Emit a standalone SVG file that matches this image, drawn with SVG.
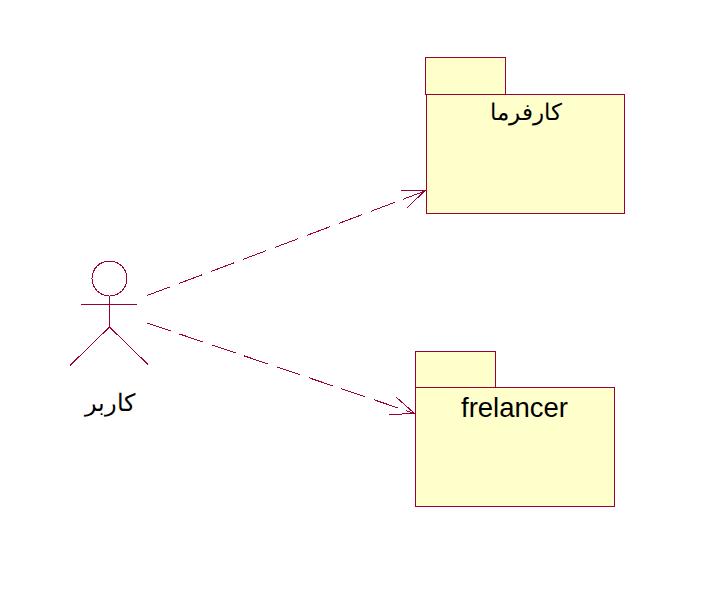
<svg xmlns="http://www.w3.org/2000/svg" width="708" height="612" viewBox="0 0 708 612">
<style>
.s{stroke:#990033;stroke-width:1;fill:none;shape-rendering:crispEdges}
.p{stroke:#990033;stroke-width:1;fill:#ffffcc;shape-rendering:crispEdges}
.t{font-family:"Liberation Sans","Noto Sans",Arial,sans-serif;fill:#000;text-anchor:middle}
.d{stroke-dasharray:25 9.2}
</style>
<rect width="708" height="612" fill="#fff"/>
<g id="connectors">
<path class="s d" d="M147 295.500L425 191"/>
<path class="s" d="M400.500 190.500L425 190.500L406.500 208.500"/>
<path class="s d" d="M147 323L414.500 413.500"/>
<path class="s" d="M396.500 397.500L414.500 413.500L389.500 414.500"/>
</g>
<g id="actor">
<circle class="s" cx="109.500" cy="278.500" r="17.500"/>
<path class="s" d="M109.500 296V327M81 304.500H137M109.500 327L70 365.500M109.500 327L148 364.500"/>
<text class="t" x="109.500" y="411" font-size="24" direction="rtl">کاربر</text>
</g>
<g id="package-karfarma">
<rect class="p" x="425.500" y="57.500" width="80" height="37"/>
<rect class="p" x="426.500" y="94.500" width="198" height="119"/>
<text class="t" x="526" y="120" font-size="23" direction="rtl">کارفرما</text>
</g>
<g id="package-frelancer">
<rect class="p" x="415.500" y="351.500" width="80" height="36"/>
<rect class="p" x="415.500" y="387.500" width="199" height="119"/>
<text class="t" x="514.500" y="417" font-size="27.500">frelancer</text>
</g>
</svg>
